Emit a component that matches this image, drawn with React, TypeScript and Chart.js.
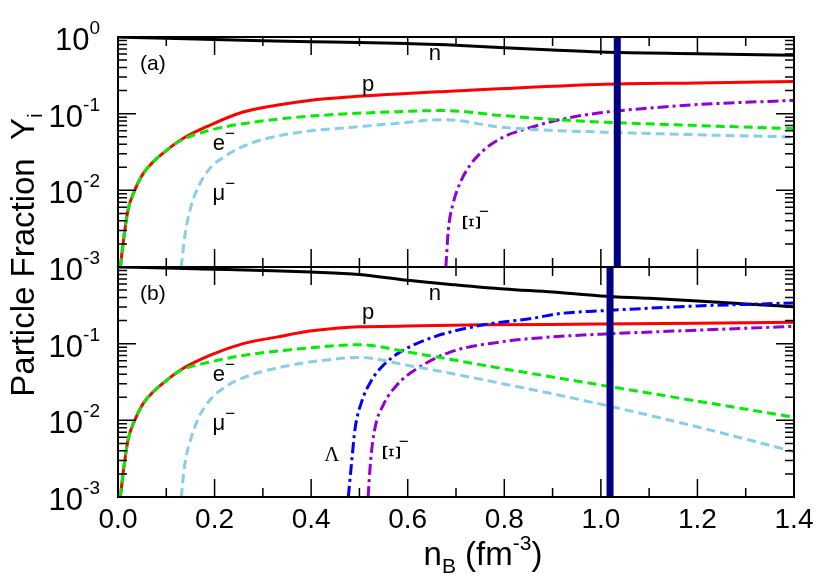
import React, { useEffect, useRef } from "react";
import { Chart, registerables } from "chart.js";

Chart.register(...registerables);

// ---------- axis ticks ----------
const X_MAJOR = [0, 0.2, 0.4, 0.6, 0.8, 1.0, 1.2, 1.4];
const X_MAJOR_LABELS = ["0.0", "0.2", "0.4", "0.6", "0.8", "1.0", "1.2", "1.4"];
const X_MINOR = [0.1, 0.3, 0.5, 0.7, 0.9, 1.1, 1.3];
const Y_DECADES = [1, 0.1, 0.01, 0.001];
const Y_EXPONENTS = ["0", "-1", "-2", "-3"];
const Y_MINOR_FACTORS = [2, 3, 4, 5, 6, 7, 8, 9];

// ---------- panel (a) ----------
const A_N_X = [0, 0.1, 0.2, 0.3, 0.4, 0.5, 0.6, 0.68, 0.8, 0.9, 1.0, 1.2, 1.4];
const A_N_Y = [1.0, 0.96, 0.925, 0.895, 0.87, 0.85, 0.82, 0.79, 0.725, 0.675, 0.637, 0.605, 0.577];

const A_P_X = [0.005, 0.0104, 0.0207, 0.0346, 0.052, 0.0726, 0.1, 0.131, 0.19, 0.259, 0.328, 0.397, 0.48, 0.6876, 0.995, 1.2, 1.4];
const A_P_Y = [0.001, 0.002, 0.0055, 0.01, 0.0165, 0.0234, 0.033, 0.046, 0.0705, 0.105, 0.129, 0.149, 0.165, 0.196, 0.241, 0.252, 0.262];

const A_E_X = [0.005, 0.0104, 0.0207, 0.0346, 0.052, 0.0726, 0.1, 0.131, 0.19, 0.259, 0.363, 0.48, 0.58, 0.674, 0.791, 0.909, 0.995, 1.2, 1.4];
const A_E_Y = [0.001, 0.002, 0.0055, 0.01, 0.0165, 0.0234, 0.033, 0.045, 0.0607, 0.074, 0.089, 0.1, 0.106, 0.11, 0.095, 0.0836, 0.078, 0.07, 0.0638];

const A_MU_X = [0.131, 0.138, 0.149, 0.166, 0.19, 0.2247, 0.273, 0.328, 0.397, 0.48, 0.58, 0.674, 0.791, 0.895, 0.995, 1.2, 1.4];
const A_MU_Y = [0.001, 0.00246, 0.0055, 0.011, 0.0192, 0.0286, 0.0407, 0.0507, 0.0594, 0.066, 0.075, 0.0836, 0.067, 0.0607, 0.0577, 0.053, 0.0496];

const A_XI_X = [0.679, 0.684, 0.694, 0.708, 0.729, 0.757, 0.798, 0.847, 0.909, 0.995, 1.1, 1.206, 1.4];
const A_XI_Y = [0.001, 0.003, 0.0067, 0.0123, 0.0212, 0.0333, 0.0496, 0.0638, 0.082, 0.102, 0.118, 0.132, 0.149];

const A_BAR_X = 1.034;

const A_LABEL_TEXT = ["n", "p", "e", "μ", "Ξ"];
const A_LABEL_SUP = ["", "", "−", "−", "−"];
const A_LABEL_X = [0.656, 0.518, 0.209, 0.209, 0.729];
const A_LABEL_Y = [0.595, 0.234, 0.0398, 0.0089, 0.0038];

// ---------- panel (b) ----------
const B_N_X = [0, 0.1, 0.2, 0.3, 0.4, 0.5, 0.6, 0.7, 0.8, 0.9, 1.0, 1.1, 1.2, 1.3, 1.4];
const B_N_Y = [1.0, 0.97, 0.935, 0.9, 0.86, 0.8, 0.67, 0.585, 0.518, 0.472, 0.42, 0.39, 0.36, 0.33, 0.302];

const B_P_X = [0.005, 0.0104, 0.0207, 0.0346, 0.052, 0.0726, 0.1, 0.131, 0.19, 0.259, 0.328, 0.397, 0.48, 0.51, 0.6, 0.757, 0.995, 1.2, 1.4];
const B_P_Y = [0.001, 0.002, 0.0055, 0.01, 0.0165, 0.0234, 0.033, 0.046, 0.0703, 0.1, 0.1217, 0.146, 0.164, 0.166, 0.17, 0.176, 0.18, 0.185, 0.19];

const B_E_X = [0.005, 0.0104, 0.0207, 0.0346, 0.052, 0.0726, 0.1, 0.131, 0.19, 0.259, 0.363, 0.48, 0.5, 0.601, 0.798, 0.995, 1.2, 1.4];
const B_E_Y = [0.001, 0.002, 0.0055, 0.01, 0.0165, 0.0234, 0.033, 0.045, 0.0575, 0.0703, 0.084, 0.0966, 0.097, 0.0776, 0.0471, 0.0292, 0.0178, 0.011];

const B_MU_X = [0.131, 0.138, 0.149, 0.166, 0.19, 0.2247, 0.273, 0.328, 0.397, 0.48, 0.5, 0.601, 0.798, 0.995, 1.2, 1.4];
const B_MU_Y = [0.001, 0.0026, 0.0052, 0.0105, 0.0183, 0.028, 0.0386, 0.048, 0.0575, 0.0655, 0.066, 0.052, 0.03, 0.0165, 0.0082, 0.0039];

const B_LAMBDA_X = [0.477, 0.484, 0.491, 0.5045, 0.525, 0.549, 0.584, 0.653, 0.757, 0.86, 0.915, 1.0, 1.1, 1.2, 1.3, 1.4];
const B_LAMBDA_Y = [0.001, 0.0029, 0.0078, 0.0174, 0.0333, 0.052, 0.0776, 0.1217, 0.176, 0.215, 0.247, 0.268, 0.29, 0.311, 0.325, 0.34];

const B_XI_X = [0.518, 0.523, 0.532, 0.549, 0.577, 0.619, 0.688, 0.791, 0.895, 1.0, 1.2, 1.4];
const B_XI_Y = [0.001, 0.0029, 0.0078, 0.0157, 0.0286, 0.0471, 0.0776, 0.105, 0.122, 0.133, 0.15, 0.168];

const B_BAR_X = 1.019;

const B_LABEL_TEXT = ["n", "p", "e", "μ", "Λ", "Ξ"];
const B_LABEL_SUP = ["", "", "−", "−", "", "−"];
const B_LABEL_X = [0.656, 0.518, 0.209, 0.209, 0.443, 0.563];
const B_LABEL_Y = [0.448, 0.25, 0.039, 0.009, 0.0035, 0.0038];

// ---------- styles ----------
const SANS = '"Liberation Sans", Arial, Helvetica, sans-serif';
const SERIF = '"Liberation Serif", "Times New Roman", serif';
const C_N = "#000000";
const C_P = "#ff0000";
const C_E = "#00ee00";
const C_MU = "#87ceeb";
const C_XI = "#9400d3";
const C_LAMBDA = "#0000ff";
const C_BAR = "#000080";

const toPts = (xs: number[], ys: number[]) => xs.map((x, i) => ({ x, y: ys[i] }));

function series(xs: number[], ys: number[], color: string, dash: number[], order: number, width = 3) {
  return {
    data: toPts(xs, ys),
    borderColor: color,
    backgroundColor: color,
    borderWidth: width,
    borderDash: dash,
    pointRadius: 0,
    fill: false,
    cubicInterpolationMode: "monotone" as const,
    order,
  };
}

function barSeries(x: number) {
  return {
    data: [{ x, y: 0.001 }, { x, y: 1 }],
    borderColor: C_BAR,
    backgroundColor: C_BAR,
    borderWidth: 7,
    borderDash: [],
    borderCapStyle: "butt" as const,
    pointRadius: 0,
    fill: false,
    order: 0,
  };
}

const DASH = [9, 5];
const DASHDOT = [11, 4, 3, 4];

function drawPow(ctx: CanvasRenderingContext2D, exp: string, rightX: number, cy: number) {
  ctx.textBaseline = "alphabetic";
  ctx.textAlign = "left";
  ctx.font = `19px ${SANS}`;
  const we = ctx.measureText(exp).width;
  ctx.font = `31px ${SANS}`;
  const wb = ctx.measureText("10").width;
  const x0 = rightX - we - wb;
  ctx.fillText("10", x0, cy + 13);
  ctx.font = `19px ${SANS}`;
  ctx.fillText(exp, x0 + wb, cy - 3);
}

function drawLabel(ctx: CanvasRenderingContext2D, text: string, sup: string, px: number, py: number) {
  ctx.textBaseline = "middle";
  ctx.textAlign = "center";
  let w: number;
  if (text === "Ξ") {
    ctx.font = `25px ${SERIF}`;
    ctx.save();
    ctx.translate(px, py);
    ctx.rotate(Math.PI / 2);
    ctx.fillText(text, 0, 0);
    ctx.restore();
    w = 18;
  } else if (text === "Λ") {
    ctx.font = `21px ${SERIF}`;
    ctx.fillText(text, px, py);
    w = ctx.measureText(text).width;
  } else {
    ctx.font = `22px ${SANS}`;
    ctx.fillText(text, px, py);
    w = ctx.measureText(text).width;
  }
  if (sup) {
    ctx.font = `17px ${SANS}`;
    ctx.textAlign = "left";
    ctx.fillText(sup, px + w / 2, py - 10);
  }
}

function panelPlugin(panel: "a" | "b") {
  return {
    id: "panel_" + panel,
    afterDatasetsDraw(chart: any) {
      const ctx: CanvasRenderingContext2D = chart.ctx;
      const { left, right, top, bottom } = chart.chartArea;
      const xs = chart.scales.x;
      const ys = chart.scales.y;
      ctx.save();
      ctx.fillStyle = "#000";
      ctx.strokeStyle = "#000";

      // tick marks (inside)
      ctx.lineWidth = 1.5;
      ctx.beginPath();
      const MAJ = 18;
      const MIN = 9;
      Y_DECADES.forEach((v) => {
        const py = ys.getPixelForValue(v);
        ctx.moveTo(left, py); ctx.lineTo(left + MAJ, py);
        ctx.moveTo(right, py); ctx.lineTo(right - MAJ, py);
      });
      Y_DECADES.slice(1).forEach((d) => {
        Y_MINOR_FACTORS.forEach((f) => {
          const py = ys.getPixelForValue(d * f);
          ctx.moveTo(left, py); ctx.lineTo(left + MIN, py);
          ctx.moveTo(right, py); ctx.lineTo(right - MIN, py);
        });
      });
      X_MAJOR.forEach((v) => {
        const px = xs.getPixelForValue(v);
        ctx.moveTo(px, top); ctx.lineTo(px, top + MAJ);
        ctx.moveTo(px, bottom); ctx.lineTo(px, bottom - MAJ);
      });
      X_MINOR.forEach((v) => {
        const px = xs.getPixelForValue(v);
        ctx.moveTo(px, top); ctx.lineTo(px, top + MIN);
        ctx.moveTo(px, bottom); ctx.lineTo(px, bottom - MIN);
      });
      ctx.stroke();

      // frame
      ctx.lineWidth = 2;
      ctx.strokeRect(left, top, right - left, bottom - top);

      // y tick labels
      Y_DECADES.forEach((v, i) => {
        if (panel === "b" && i === 0) return;
        drawPow(ctx, Y_EXPONENTS[i], left - 18, ys.getPixelForValue(v));
      });

      // panel tag
      ctx.font = `21px ${SANS}`;
      ctx.textAlign = "left";
      ctx.textBaseline = "middle";
      ctx.fillText(panel === "a" ? "(a)" : "(b)", left + 22, top + 27);

      // curve labels
      const T = panel === "a" ? A_LABEL_TEXT : B_LABEL_TEXT;
      const S = panel === "a" ? A_LABEL_SUP : B_LABEL_SUP;
      const LX = panel === "a" ? A_LABEL_X : B_LABEL_X;
      const LY = panel === "a" ? A_LABEL_Y : B_LABEL_Y;
      T.forEach((t, i) => {
        drawLabel(ctx, t, S[i], xs.getPixelForValue(LX[i]), ys.getPixelForValue(LY[i]));
      });

      if (panel === "b") {
        // x tick labels
        ctx.font = `28px ${SANS}`;
        ctx.textAlign = "center";
        ctx.textBaseline = "alphabetic";
        X_MAJOR.forEach((v, i) => {
          ctx.fillText(X_MAJOR_LABELS[i], xs.getPixelForValue(v), bottom + 31);
        });

        // x title: n_B (fm^-3)
        const big = `33px ${SANS}`;
        const small = `21px ${SANS}`;
        const parts: [string, string, number][] = [
          ["n", big, 0],
          ["B", small, 8],
          [" (fm", big, 0],
          ["-3", small, -15],
          [")", big, 0],
        ];
        let total = 0;
        parts.forEach(([s, f]) => { ctx.font = f; total += ctx.measureText(s).width; });
        let cx = (left + right) / 2 - total / 2 + 27;
        const base = bottom + 68;
        ctx.textAlign = "left";
        parts.forEach(([s, f, dy]) => {
          ctx.font = f;
          ctx.fillText(s, cx, base + dy);
          cx += ctx.measureText(s).width;
        });

        // y title: Particle Fraction  Y_i
        const yParts: [string, string, number][] = [
          ["Particle Fraction  Y", big, 0],
          ["i", small, 8],
        ];
        let yt = 0;
        yParts.forEach(([s, f]) => { ctx.font = f; yt += ctx.measureText(s).width; });
        ctx.save();
        ctx.translate(34, 255);
        ctx.rotate(-Math.PI / 2);
        let tx = -yt / 2;
        yParts.forEach(([s, f, dy]) => {
          ctx.font = f;
          ctx.fillText(s, tx, dy);
          tx += ctx.measureText(s).width;
        });
        ctx.restore();
      }
      ctx.restore();
    },
  };
}

function makeChart(canvas: HTMLCanvasElement, panel: "a" | "b") {
  const datasets =
    panel === "a"
      ? [
          barSeries(A_BAR_X),
          series(A_E_X, A_E_Y, C_E, DASH, 1),
          series(A_MU_X, A_MU_Y, C_MU, DASH, 2),
          series(A_P_X, A_P_Y, C_P, [], 3),
          series(A_XI_X, A_XI_Y, C_XI, DASHDOT, 2),
          series(A_N_X, A_N_Y, C_N, [], 3),
        ]
      : [
          barSeries(B_BAR_X),
          series(B_E_X, B_E_Y, C_E, DASH, 1),
          series(B_MU_X, B_MU_Y, C_MU, DASH, 2),
          series(B_P_X, B_P_Y, C_P, [], 3),
          series(B_LAMBDA_X, B_LAMBDA_Y, C_LAMBDA, DASHDOT, 2),
          series(B_XI_X, B_XI_Y, C_XI, DASHDOT, 2),
          series(B_N_X, B_N_Y, C_N, [], 3),
        ];
  return new Chart(canvas, {
    type: "line",
    data: { datasets: datasets as any },
    options: {
      animation: false,
      responsive: false,
      devicePixelRatio: 1,
      events: [],
      layout: {
        padding: {
          left: 118,
          right: 36,
          top: panel === "a" ? 37 : 267,
          bottom: panel === "a" ? 313 : 83,
        },
      },
      plugins: { legend: { display: false }, tooltip: { enabled: false } },
      scales: {
        x: { type: "linear", min: 0, max: 1.4, display: false },
        y: { type: "logarithmic", min: 0.001, max: 1, display: false },
      },
    },
    plugins: [panelPlugin(panel) as any],
  });
}

export default function App() {
  const refA = useRef<HTMLCanvasElement>(null);
  const refB = useRef<HTMLCanvasElement>(null);
  useEffect(() => {
    document.body.style.margin = "0";
    const a = makeChart(refA.current!, "a");
    const b = makeChart(refB.current!, "b");
    return () => {
      a.destroy();
      b.destroy();
    };
  }, []);
  return (
    <div style={{ position: "relative", width: 830, height: 580, background: "#fff" }}>
      <canvas ref={refA} width={830} height={580} style={{ position: "absolute", left: 0, top: 0 }} />
      <canvas ref={refB} width={830} height={580} style={{ position: "absolute", left: 0, top: 0 }} />
    </div>
  );
}
